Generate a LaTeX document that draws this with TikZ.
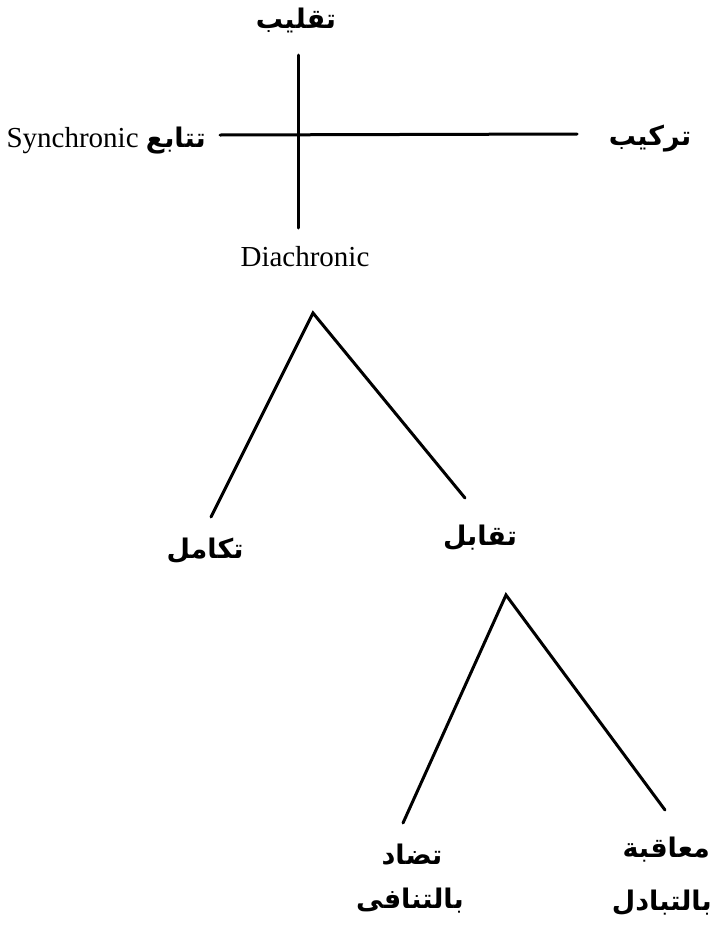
\documentclass[tikz,border=0pt]{standalone}
\usepackage{fontspec}
\setmainfont{Liberation Serif}
\newfontfamily\arabicfont[Script=Arabic]{DejaVu Sans}
\TeXXeTstate=1
\newcommand{\ar}[1]{{\arabicfont\bfseries\fontsize{27}{32}\selectfont\beginR #1\endR}}
\begin{document}
\begin{tikzpicture}[x=1pt,y=-1pt,
  rule/.style={line width=3pt,line cap=round},
  lab/.style={inner sep=0pt,font=\fontsize{29}{34}\selectfont}]
\fill[white] (0,0) rectangle (714,932);
\useasboundingbox (0,0) rectangle (714,932);
% cross
\coordinate (vtop) at (298,55);
\coordinate (vbot) at (298,228);
\coordinate (hleft) at (220,135);
\coordinate (hright) at (577,134);
\draw[rule] (vtop) -- (vbot);
\draw[rule] (hleft) -- (hright);
\node[lab] (taqlib) at (296,20) {\ar{تقليب}};
\node[lab] (tarkib) at (650,139) {\ar{تركيب}};
\node[lab,anchor=east] (sync) at (206,141) {Synchronic \ar{تتابع}};
\node[lab] (diach) at (305,257) {Diachronic};
% tree 1
\coordinate (apexA) at (313,313);
\coordinate (endAL) at (211,517);
\coordinate (endAR) at (465,498);
\draw[rule] (endAL) -- (apexA) -- (endAR);
\node[lab] (takamul) at (205,551) {\ar{تكامل}};
\node[lab] (taqabul) at (480,538) {\ar{تقابل}};
% tree 2
\coordinate (apexB) at (506,595);
\coordinate (endBL) at (403,823);
\coordinate (endBR) at (665,810);
\draw[rule] (endBL) -- (apexB) -- (endBR);
\node[lab] (tadad) at (412,855) {\ar{تضاد}};
\node[lab] (tanafi) at (410,901) {\ar{بالتنافى}};
\node[lab,anchor=east] (muaqaba) at (710,850) {\ar{معاقبة}};
\node[lab,anchor=east] (tabadul) at (712,903) {\ar{بالتبادل}};
\end{tikzpicture}
\end{document}
